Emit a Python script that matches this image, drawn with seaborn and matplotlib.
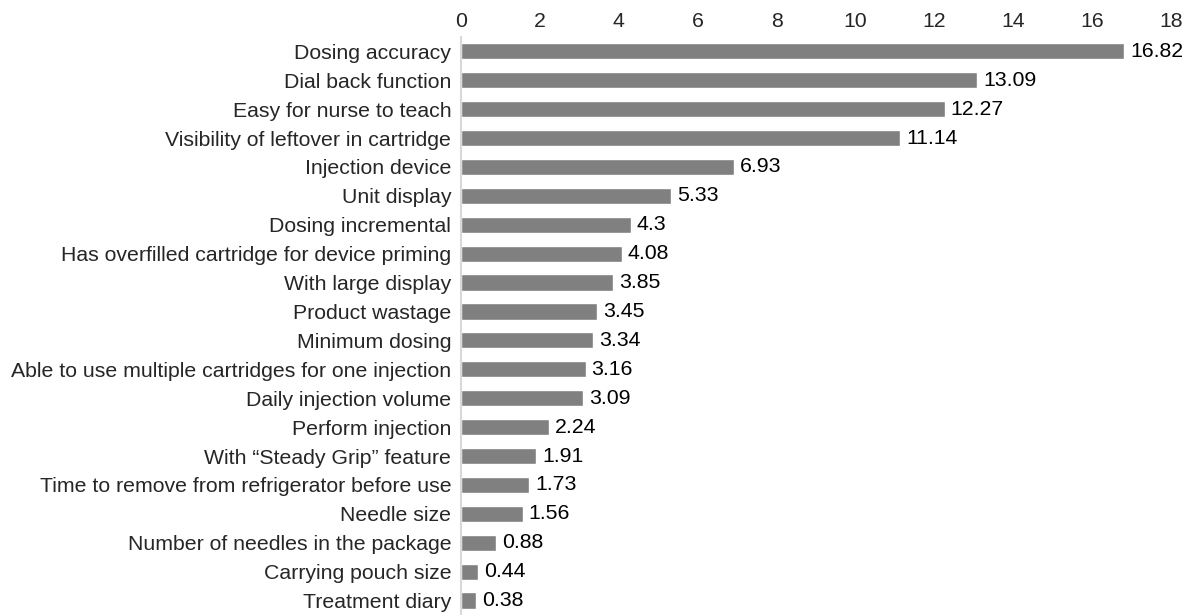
import matplotlib
matplotlib.use("Agg")
import matplotlib.pyplot as plt
import seaborn as sns
import pandas as pd

features = [
    "Dosing accuracy",
    "Dial back function",
    "Easy for nurse to teach",
    "Visibility of leftover in cartridge",
    "Injection device",
    "Unit display",
    "Dosing incremental",
    "Has overfilled cartridge for device priming",
    "With large display",
    "Product wastage",
    "Minimum dosing",
    "Able to use multiple cartridges for one injection",
    "Daily injection volume",
    "Perform injection",
    "With \u201cSteady Grip\u201d feature",
    "Time to remove from refrigerator before use",
    "Needle size",
    "Number of needles in the package",
    "Carrying pouch size",
    "Treatment diary",
]
scores = [16.82, 13.09, 12.27, 11.14, 6.93, 5.33, 4.3, 4.08, 3.85, 3.45,
          3.34, 3.16, 3.09, 2.24, 1.91, 1.73, 1.56, 0.88, 0.44, 0.38]
x_ticks = [0, 2, 4, 6, 8, 10, 12, 14, 16, 18]

df = pd.DataFrame({"feature": features, "score": scores})

sns.set_style("white")
plt.rcParams['font.family'] = ['Liberation Sans', 'DejaVu Sans']
fs = 15.3

fig = plt.figure(figsize=(11.96, 6.15), dpi=100)
ax = fig.add_axes([0.3855, 0.0, 0.979 - 0.3855, 0.94])

sns.barplot(data=df, x="score", y="feature", color="#808080", width=0.56,
            saturation=1, ax=ax)

for i, v in enumerate(scores):
    ax.text(v + 0.15, i, f"{v:g}", va="center", ha="left", fontsize=fs, color="black")

ax.set_xlim(0, 18)
ax.set_xticks(x_ticks)
ax.xaxis.tick_top()
ax.tick_params(axis="x", length=0, labelsize=fs, pad=4)
ax.tick_params(axis="y", length=0, labelsize=fs, pad=7)
ax.set_xlabel("")
ax.set_ylabel("")
for s in ["top", "right", "bottom"]:
    ax.spines[s].set_visible(False)
ax.spines["left"].set_color("#d9d9d9")
ax.spines["left"].set_linewidth(1.5)

fig.savefig("out.png", dpi=100)
